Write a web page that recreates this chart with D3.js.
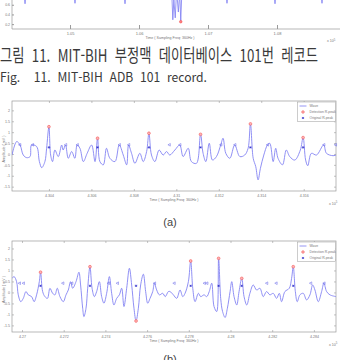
<!DOCTYPE html>
<html lang="ko">
<head>
<meta charset="UTF-8" />
<title>MIT-BIH ADB 101 record</title>
<script src="https://d3js.org/d3.v7.min.js"></script>
<style>
  body { margin: 0; background: #fff; }
  svg { display: block; }
  .tick text { fill: #777; font-family: "Liberation Sans", Arial, sans-serif; }
  .small { fill: #777; font-family: "Liberation Sans", Arial, sans-serif; }
  .cap { white-space: pre; }
</style>
</head>
<body>
<svg id="chart" width="340" height="360"></svg>
<script>
// ---- top strip: bottom of the previous figure (samples, amplitude) ----
const topSamples = [104323, 104348, 104373, 105047, 105072, 105097, 105772, 105797, 105822,
  106470, 106490, 106505, 106525, 106545, 106570, 106590, 106605, 106625,
  107250, 107275, 107300, 107946, 107971, 107996, 108627, 108652, 108677];
const topAmp = [1.0, 0.62, 1.0, 1.0, 0.63, 1.0, 1.0, 0.62, 1.0,
  1.0, 0.29, 0.7, 0.33, 0.9, 0.45, 0.85, 0.27, 1.0,
  1.0, 0.63, 1.0, 1.0, 0.62, 1.0, 1.0, 0.63, 1.0];
const topDetect = [[106605, 0.25]];
const topXTicks = [105000, 106000, 107000, 108000];
const topYTicks = [0.2, 0.4, 0.6];

// ---- panel (a) ----
const aSamples = [430226, 430248, 430264, 430279, 430295, 430311, 430318, 430342, 430355, 430366,
  430381, 430389, 430400, 430408, 430417, 430428, 430444, 430460, 430467, 430478,
  430491, 430507, 430522, 430533, 430546, 430562, 430580, 430601, 430617, 430629,
  430640, 430656, 430671, 430687, 430711, 430731, 430750, 430766, 430775, 430789,
  430805, 430828, 430844, 430860, 430871, 430883, 430899, 430919, 430938, 430954,
  430969, 430993, 431016, 431032, 431056, 431071, 431095, 431114, 431126, 431139,
  431155, 431170, 431189, 431209, 431220, 431233, 431252, 431275, 431299, 431322,
  431338, 431349, 431362, 431374, 431385, 431396, 431412, 431429, 431440, 431456,
  431468, 431479, 431500, 431518, 431534, 431558, 431584, 431597, 431609, 431619,
  431636, 431660, 431694, 431707, 431738, 431752];
const aAmp = [-0.05, 0.57, 0.41, -0.05, -0.17, -0.12, 0.41, 0.34, -0.35, -0.63,
  -0.35, 0.26, 1.25, -0.05, -0.35, 0.18, -0.12, 0.41, 0.18, 0.41,
  -0.2, 0.11, -0.2, 0.41, 0.26, -0.35, 0.03, 0.41, -0.35, 0.72,
  -0.35, -0.5, 0.26, -0.2, -0.35, 0.41, -0.05, -0.5, 0.41, 0.03,
  -0.43, 0.03, -0.35, 0.11, 0.95, -0.05, -0.35, 0.18, -0.05, 0.11,
  -0.05, 0.18, 0.41, -0.12, 0.26, -0.35, -0.43, 0.9, 0.03, -0.35,
  0.49, -0.28, -0.12, 0.41, 0.72, 0.03, -0.2, 0.41, -0.12, -0.05,
  0.26, 1.38, -0.2, -0.58, -1.19, -0.66, -0.05, 0.41, 0.49, -0.35,
  0.26, -0.2, -0.5, 0.18, -0.12, -0.28, 0.18, 0.75, -0.28, -0.54,
  0.03, -0.05, 0.41, 0.03, -0.08, -0.05];
const aDetectS = [430400, 430629, 430871, 431114, 431349, 431597];
const aDetectV = [1.25, 0.72, 0.95, 0.90, 1.38, 0.75];
const aOtherS = [430262, 430322, 430478, 430533, 430731, 430775, 430966, 431016, 431209, 431275, 431429, 431694, 431749];
const aXTicks = [430400, 430600, 430800, 431000, 431200, 431400, 431600];

// ---- panel (b) ----
const bSamples = [426952, 426962, 426974, 426982, 426994, 427006, 427019, 427030, 427046, 427058,
  427070, 427083, 427089, 427099, 427110, 427122, 427134, 427147, 427158, 427169,
  427182, 427198, 427211, 427222, 427233, 427243, 427259, 427273, 427281, 427291,
  427297, 427307, 427315, 427326, 427336, 427347, 427358, 427371, 427382, 427393,
  427406, 427419, 427430, 427441, 427454, 427467, 427478, 427489, 427502, 427515,
  427526, 427537, 427547, 427558, 427569, 427582, 427593, 427603, 427614, 427627,
  427635, 427646, 427659, 427675, 427687, 427702, 427710, 427726, 427742, 427758,
  427771, 427782, 427798, 427809, 427819, 427830, 427846, 427857, 427873, 427886,
  427898, 427910, 427921, 427934, 427943, 427953, 427962, 427974, 427985, 427998,
  428006, 428017, 428030, 428041, 428054, 428065, 428078, 428093, 428109, 428125,
  428141, 428157, 428173, 428189, 428205, 428221, 428234, 428245, 428261, 428282,
  428293, 428301, 428311, 428320, 428333, 428349, 428365, 428381, 428394, 428405,
  428421, 428437, 428448, 428461, 428477, 428506];
const bAmp = [0.64, 0.72, 0.49, -0.11, -0.42, -0.27, 0.04, -0.11, -0.19, -0.42,
  -0.11, 0.49, 0.92, 0.04, -0.19, -0.27, 0.19, -0.04, -0.11, 0.19,
  -0.19, -0.42, -0.11, 0.11, 0.49, 0.19, 0.49, 0.92, 0.34, -0.72,
  -1.10, -0.72, 0.19, 1.17, 0.19, -0.19, 0.04, 0.49, -0.19, -0.49,
  -0.04, 0.72, -0.04, -0.57, -0.27, -0.11, 0.19, -0.64, 0.19, 1.10,
  0.34, -0.72, -1.30, -0.72, 0.34, 0.83, 0.04, -0.49, -0.27, 0.04,
  0.42, 0.11, -0.11, -0.04, -0.19, 0.04, 0.04, -0.11, -0.27, 0.11,
  -0.19, -0.04, 0.49, 1.43, 0.19, -0.42, -0.04, -0.19, -0.11, -0.19,
  0.04, 0.42, -0.64, -0.87, 1.55, -0.27, -0.87, -1.14, -0.72, 0.04,
  0.49, -0.19, -0.57, 0.04, 0.64, -0.19, -0.57, -0.04, 0.34, 0.11,
  0.19, -0.19, 0.04, -0.11, -0.04, -0.27, -0.04, -0.42, 0.04, 0.19,
  0.64, 1.17, 0.04, -0.42, -0.11, -0.04, -0.34, -0.11, 0.34, 0.11,
  -0.42, 0.04, 0.42, 0.04, -0.11, -0.19];
const bDetectS = [427089, 427326, 427547, 427809, 427943, 428054, 428301];
const bDetectV = [0.92, 1.17, -1.30, 1.43, 1.55, 0.64, 1.17];
const bOtherS = [426987, 427006, 427195, 427238, 427414, 427457, 427635, 427729, 427874, 427886, 428173, 428218, 428384, 428448];
const bXTicks = [427000, 427200, 427400, 427600, 427800, 428000, 428200, 428400];

const yTicks = [2, 1.5, 1, 0.5, 0, -0.5, -1, -1.5];
const origLevel = 0.3;    // height of the "Original R-peak" asterisks
const otherLevel = 0.42;  // height of the other annotation marks
const legendLabels = ["Wave", "Detection R-peak", "Original R-peak"];

const waveColor = "#7c7cf2";
const frameColor = "#9a9a9a";
const svg = d3.select("#chart");
const fmtX = s => String(+(s / 1e5).toFixed(3));

function asterisk(g, x, y, r) {
  const p = d3.path();
  for (let k = 0; k < 3; k++) {
    const a = k * Math.PI / 3;
    p.moveTo(x - r * Math.cos(a), y - r * Math.sin(a));
    p.lineTo(x + r * Math.cos(a), y + r * Math.sin(a));
  }
  g.append("path").attr("d", p.toString()).attr("stroke", "#2525c8").attr("stroke-width", 0.6);
}

// ---- top strip ----
(function drawTop() {
  const x = d3.scaleLinear().domain([104159, 108884]).range([12, 338]);
  const y = d3.scaleLinear().domain([0.1, 1.1]).range([29, -19.5]);
  const g = svg.append("g");
  g.append("clipPath").attr("id", "clipTop").append("rect")
    .attr("x", 12).attr("y", 0).attr("width", 328).attr("height", 29);
  g.append("path")
    .datum(topSamples.map((s, i) => [s, topAmp[i]]))
    .attr("clip-path", "url(#clipTop)")
    .attr("d", d3.line().x(d => x(d[0])).y(d => y(d[1])))
    .attr("fill", "none").attr("stroke", waveColor).attr("stroke-width", 0.8);
  g.selectAll("circle.det").data(topDetect).join("circle")
    .attr("cx", d => x(d[0])).attr("cy", d => y(d[1])).attr("r", 1.3)
    .attr("fill", "#ff8080").attr("stroke", "#f04040").attr("stroke-width", 0.5);

  g.append("g").attr("transform", "translate(0,29)")
    .call(d3.axisBottom(x).tickValues(topXTicks).tickFormat(d => fmtX(d)).tickSize(-4).tickPadding(3))
    .call(a => a.select(".domain").remove())
    .call(a => a.selectAll("line").attr("stroke", frameColor))
    .call(a => a.selectAll("text").attr("font-size", 4));
  g.append("g").attr("transform", "translate(12,0)")
    .call(d3.axisLeft(y).tickValues(topYTicks).tickFormat(d3.format(".1f")).tickSize(-2).tickPadding(2))
    .call(a => a.select(".domain").remove())
    .call(a => a.selectAll("line").attr("stroke", frameColor))
    .call(a => a.selectAll("text").attr("font-size", 3.5));
  g.append("path").attr("d", "M12,0V29H340").attr("fill", "none")
    .attr("stroke", frameColor).attr("stroke-width", 0.7);
  g.append("text").attr("class", "small").attr("x", 170).attr("y", 39)
    .attr("text-anchor", "middle").attr("font-size", 3.6).text("Time ( Sampling Freq: 360Hz )");
  g.append("text").attr("class", "small").attr("x", 327).attr("y", 42)
    .attr("font-size", 3.6).text("x 10").append("tspan").attr("dy", -1.5).attr("font-size", 2.8).text("5");
})();

// ---- caption (the scan is stretched vertically, so the text is too) ----
svg.append("text").attr("class", "cap").attr("transform", "translate(0,62) scale(1,1.26)")
  .attr("font-family", "'Noto Sans CJK KR', sans-serif").attr("font-size", 14)
  .attr("fill", "#3a3a3a").attr("textLength", 318).attr("lengthAdjust", "spacingAndGlyphs")
  .text("그림  11.  MIT-BIH  부정맥  데이터베이스  101번  레코드");
svg.append("text").attr("class", "cap").attr("x", 0).attr("y", 82)
  .attr("font-family", "'Noto Sans CJK KR', sans-serif").attr("font-size", 12.5)
  .attr("fill", "#3a3a3a").attr("textLength", 207).attr("lengthAdjust", "spacingAndGlyphs")
  .text("Fig.    11.  MIT-BIH  ADB  101  record.");

// ---- ECG panels ----
function drawPanel(cfg) {
  const { left, right, top, bottom } = cfg;
  const x = d3.scaleLinear().domain(cfg.xDomain).range([left, right]);
  const y = d3.scaleLinear().domain(cfg.yDomain).range([bottom, top]);
  const g = svg.append("g");
  const id = "clip" + cfg.name;
  g.append("clipPath").attr("id", id).append("rect")
    .attr("x", left).attr("y", top).attr("width", right - left).attr("height", bottom - top);

  // axes (MATLAB style: ticks inside on all four sides)
  const axX = d3.axisBottom(x).tickValues(cfg.xTicks).tickFormat(fmtX).tickSize(-2).tickPadding(3);
  const axY = d3.axisLeft(y).tickValues(yTicks).tickFormat(d => String(d)).tickSize(-2).tickPadding(2);
  const style = a => {
    a.select(".domain").remove();
    a.selectAll("line").attr("stroke", frameColor).attr("stroke-width", 0.6);
    a.selectAll("text").attr("font-size", 3.6);
  };
  g.append("g").attr("transform", `translate(0,${bottom})`).call(axX).call(style);
  g.append("g").attr("transform", `translate(${left},0)`).call(axY).call(style);
  g.append("g").attr("transform", `translate(0,${top})`)
    .call(d3.axisTop(x).tickValues(cfg.xTicks).tickFormat("").tickSize(-2)).call(style);
  g.append("g").attr("transform", `translate(${right},0)`)
    .call(d3.axisRight(y).tickValues(yTicks).tickFormat("").tickSize(-2)).call(style);
  g.append("rect").attr("x", left).attr("y", top).attr("width", right - left).attr("height", bottom - top)
    .attr("fill", "none").attr("stroke", frameColor).attr("stroke-width", 0.7);

  // wave
  g.append("path")
    .datum(cfg.samples.map((s, i) => [s, cfg.amp[i]]))
    .attr("clip-path", `url(#${id})`)
    .attr("d", d3.line().x(d => x(d[0])).y(d => y(d[1])).curve(d3.curveCatmullRom.alpha(0.5)))
    .attr("fill", "none").attr("stroke", waveColor).attr("stroke-width", 0.85);

  // other annotations (small left-pointing triangles)
  g.selectAll("path.oth").data(cfg.other).join("path").attr("class", "oth")
    .attr("d", s => { const cx = x(s), cy = y(otherLevel); return `M${cx + 1.2},${cy - 1.3}L${cx - 1.2},${cy}L${cx + 1.2},${cy + 1.3}Z`; })
    .attr("fill", "none").attr("stroke", "#6060e6").attr("stroke-width", 0.5);

  // original R-peaks
  cfg.detectS.forEach(s => asterisk(g, x(s), y(origLevel), 1.3));
  // detected R-peaks
  g.selectAll("circle.det").data(cfg.detectS).join("circle").attr("class", "det")
    .attr("cx", s => x(s)).attr("cy", (s, i) => y(cfg.detectV[i])).attr("r", 1.4)
    .attr("fill", "#ffb4b4").attr("stroke", "#f04a4a").attr("stroke-width", 0.5);

  // labels
  g.append("text").attr("class", "small")
    .attr("transform", `translate(4.5,${(top + bottom) / 2 + 3}) rotate(-90)`)
    .attr("text-anchor", "middle").attr("font-size", 3.6).text("Amplitude ( mV )");
  g.append("text").attr("class", "small").attr("x", (left + right) / 2).attr("y", bottom + 10)
    .attr("text-anchor", "middle").attr("font-size", 3.6).text("Time ( Sampling Freq: 360Hz )");
  g.append("text").attr("class", "small").attr("x", right - 7).attr("y", bottom + 13.5)
    .attr("font-size", 3.6).text("x 10").append("tspan").attr("dy", -1.5).attr("font-size", 2.8).text("5");

  // legend
  const lw = 38, lh = 19.5, lx = right - lw - 0.5, ly = top + 1;
  const lg = g.append("g");
  lg.append("rect").attr("x", lx).attr("y", ly).attr("width", lw).attr("height", lh)
    .attr("fill", "#fff").attr("stroke", frameColor).attr("stroke-width", 0.5);
  legendLabels.forEach((t, i) => {
    const yy = ly + 4 + i * 6;
    if (i === 0) lg.append("line").attr("x1", lx + 2).attr("x2", lx + 9).attr("y1", yy).attr("y2", yy)
      .attr("stroke", waveColor).attr("stroke-width", 0.8);
    if (i === 1) lg.append("circle").attr("cx", lx + 5.5).attr("cy", yy).attr("r", 1.3)
      .attr("fill", "#ffb4b4").attr("stroke", "#f04a4a").attr("stroke-width", 0.5);
    if (i === 2) asterisk(lg, lx + 5.5, yy, 1.2);
    lg.append("text").attr("class", "small").attr("x", lx + 12).attr("y", yy + 1.2)
      .attr("font-size", 3.4).text(t);
  });

  svg.append("text").attr("x", 170).attr("y", cfg.tagY).attr("text-anchor", "middle")
    .attr("font-family", "'Liberation Sans', Arial, sans-serif").attr("font-size", 11)
    .attr("fill", "#444").text(cfg.tag);
}

drawPanel({
  name: "A", left: 12, right: 336, top: 101, bottom: 191,
  xDomain: [430226, 431752], yDomain: [-1.7, 2.43], xTicks: aXTicks,
  samples: aSamples, amp: aAmp, detectS: aDetectS, detectV: aDetectV, other: aOtherS,
  tag: "(a)", tagY: 226
});
drawPanel({
  name: "B", left: 12, right: 336, top: 241, bottom: 332,
  xDomain: [426952, 428506], yDomain: [-1.8, 2.34], xTicks: bXTicks,
  samples: bSamples, amp: bAmp, detectS: bDetectS, detectV: bDetectV, other: bOtherS,
  tag: "(b)", tagY: 363
});
</script>
</body>
</html>
